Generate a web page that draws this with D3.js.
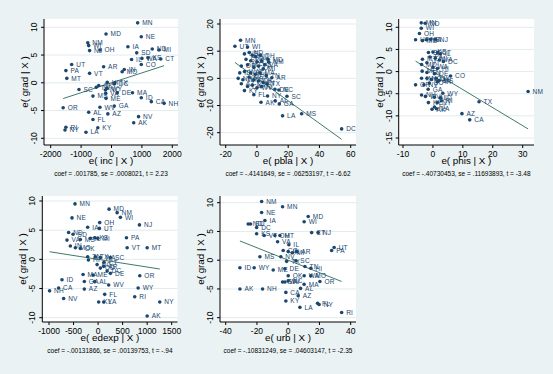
<!DOCTYPE html>
<html lang="en">
<head>
<meta charset="utf-8">
<title>avplots: grad</title>
<script src="https://cdn.jsdelivr.net/npm/d3@7/dist/d3.min.js"></script>
<style>
  body { margin: 0; background: #eaf2f3; }
  text { font-family: "Liberation Sans", Arial, sans-serif; }
  .tick-label { font-size: 8.5px; fill: #000; }
  .axis-title { font-size: 9.8px; fill: #000; }
  .note { font-size: 6.5px; fill: #000; }
  .pt-label { font-size: 6.5px; fill: #1a476f; letter-spacing: 0.3px; }
</style>
</head>
<body>
<script>

// residuals: [state, e(x | X), e(grad | X)]
var incPts = [
  ["MN",860,10.8],["MD",-180,8.8],["NE",980,8.3],["NM",-780,7.2],["WI",-750,6.7],
  ["NJ",-720,5.8],["OH",-380,5.9],["IA",540,6.5],["ND",1340,6.1],["MI",1560,5.9],
  ["SD",830,5.4],["IL",660,4.2],["WA",1000,4.4],["KS",1200,4.5],["CT",1620,4.3],
  ["CO",980,3.3],["UT",-1310,3.3],["PA",-1500,2.2],["VT",-720,1.7],["AR",-260,2.9],
  ["MT",-1470,0.8],["IN",420,2.4],["MO",350,2.0],["TX",110,0.0],["HI",-140,0.1],
  ["SC",-1070,-1.2],["TN",-500,-0.8],["OK",-420,-0.5],["NC",-200,-1.3],["VA",-190,-1.9],
  ["WY",-150,-1.0],["DC",90,-0.2],["ME",-180,-2.8],["MS",-610,-2.4],["DE",190,-1.8],
  ["MA",690,-1.8],["ID",980,-2.7],["OR",-1590,-4.5],["CA",1310,-3.4],["NH",1730,-3.7],
  ["WV",-380,-4.4],["GA",90,-4.2],["AL",-750,-5.3],["KY",-450,-8.1],["AZ",-120,-5.6],
  ["FL",-610,-6.6],["NV",890,-6.1],["AK",730,-7.2],["RI",-1500,-8.0],["NY",-1530,-8.5],
  ["LA",-840,-8.9]
];

var pblaPts = [
  ["MN",-10.5,14.0],["UT",-14.1,11.8],["WI",-6,11.5],["MD",7.0,7.0],["NM",7.5,6.0],
  ["AR",9.5,0.2],["TX",6.5,-2.0],["DE",11.5,-4.0],["NC",14,-4.3],["SC",19.2,-6.6],
  ["AL",11.7,-8.3],["GA",14.3,-9.4],["AK",2.6,-8.8],["NY",6.8,-6.5],["LA",16.4,-13.8],
  ["MS",28.6,-13.0],["DC",54.2,-18.6],
  ["NE",-8,9],["ND",-5,9.5],["IA",-3,8.5],["NJ",-1,8],["OH",2,8.5],["SD",-7,7],
  ["KS",-4,6.5],["CT",0,6],["IL",3,6.5],["VA",5,5],["OR",-10,4.5],["MT",-6,5],
  ["CO",-2,4],["PA",1,4.5],["MI",4,3.5],["ID",-11,2],["WA",-8,2.5],["VT",-4,2],
  ["HI",-1,1.5],["MA",2,2],["TN",6,1],["NH",-12,0],["WY",-9,-0.5],["ME",-5,0.5],
  ["MO",-2,-0.5],["OK",1,-1],["IN",4,-1.5],["AZ",-10,-2],["CA",-6,-3],["NV",-3,-2.5],
  ["WV",0,-3.5],["RI",3,-3],["KY",-8,-4.5],["FL",-2,-6]
];

var phisPts = [
  ["NM",31.8,-4.5],["TX",15.4,-6.8],["AZ",9.7,-9.5],["CA",12.3,-10.9],["CO",5.9,-1.0],
  ["DC",3.5,2.3],["MN",-3.9,11.0],["ND",-2.6,10.9],["WI",-3.9,9.8],["OH",-4.5,8.6],
  ["UT",-5.8,7.2],["MD",-3.5,7.0],["NE",-2.2,7.2],["IA",-0.8,7.3],["NJ",0.8,7.3],
  ["SD",-1.5,4.3],["KS",0,4.4],["CT",1.5,4.3],["IL",2.5,4.0],["PA",-1,3.3],
  ["MI",0.8,3.0],["VA",2.2,2.6],["MT",-3.5,2.8],["VT",-2,2.0],["MO",-3.8,1.6],
  ["WA",0,1.0],["HI",1.5,0.7],["ME",-3.6,0.1],["TN",-2,-0.2],["DE",0.5,-0.5],
  ["IN",-3.8,-1.5],["NC",-2,-1.5],["MA",-0.5,-1.8],["OK",1,-1.5],["MS",2,-2.0],
  ["SC",-1.2,-2.6],["AR",1.5,-2.3],["OR",-5.8,-3.0],["NV",-3,-3.0],["GA",-1.6,-4.0],
  ["WY",3.3,-4.9],["NH",-3.8,-5.3],["WV",-2.5,-5.6],["AL",0.5,-5.8],["ID",2.5,-5.9],
  ["KY",-1.5,-7.0],["NY",1.5,-7.0],["RI",2.8,-6.6],["FL",0.5,-8.0],["AK",-0.3,-8.5],
  ["LA",1.2,-8.4]
];

var edexpPts = [
  ["MN",-470,9.5],["MD",224,8.6],["NM",388,8.0],["WI",455,7.2],["NE",-531,7.1],
  ["OH",33,6.3],["NJ",843,5.9],["IA",-212,5.5],["UT",27,5.3],["ND",-600,4.6],
  ["SD",-510,4.3],["PA",578,3.7],["VT",592,2.0],["MT",1000,2.0],["VA",-633,3.3],
  ["MS",-361,3.4],["IL",-157,3.6],["KS",-69,3.7],["MI",-7,3.6],["MO",-463,2.0],
  ["IN",-565,2.3],["OK",-361,1.85],["SC",251,0.3],["TN",-212,0.45],["TX",-55,0.45],
  ["WA",47,0.3],["HI",-197,-0.1],["NC",-20,-0.9],["CT",120,-0.5],["GA",-280,-3.8],
  ["AL",-69,-3.8],["CO",47,-1.5],["ME",-102,-2.7],["MA",-306,-2.6],["WY",816,-4.9],
  ["DE",251,-2.4],["AR",114,-1.2],["DC",184,-2.0],["WV",216,-4.4],["ID",-735,-3.5],
  ["OR",850,-2.8],["CA",-804,-4.9],["AZ",-280,-5.1],["NH",-988,-5.4],["FL",135,-6.0],
  ["NV",-702,-6.7],["RI",747,-6.4],["KY",12,-7.3],["LA",114,-7.3],["NY",1257,-7.3],
  ["AK",1000,-9.7]
];

var urbPts = [
  ["NM",-17,10.2],["MN",-3.6,9.3],["NE",-17,8.3],["MD",12.8,7.6],["WI",10.2,6.7],
  ["IA",-14.9,6.9],["ND",-25.6,6.3],["SD",-24.1,6.3],["DC",-20.2,5.7],["NJ",19.2,4.8],
  ["CT",15,4.8],["KS",-20.2,4.6],["VT",-15.4,4.3],["OH",-8.5,4.3],["MT",-5.3,4.3],
  ["VA",-6.8,3.2],["IL",0.4,2.7],["UT",29.4,2.2],["PA",27.8,1.7],["CO",-3.2,1.7],
  ["IN",0,1.5],["MI",2.6,1.3],["AR",5.4,1.5],["MS",-18.1,0.6],["NV",-4.7,0.6],
  ["TX",-1,-0.2],["SC",4.9,-0.1],["TN",10.7,-1.1],["HI",14.5,-1.4],["ID",-30.9,-1.3],
  ["WY",-21.8,-1.3],["ME",-9.6,-1.7],["DE",-2.1,-1.5],["OK",0,-2.7],["WA",10.2,-2.7],
  ["MO",14.5,-2.7],["OR",20.3,-3.7],["GA",-3.6,-3.8],["WV",-2.1,-3.8],["NC",0,-3.6],
  ["MA",10.2,-4.2],["AL",7.9,-4.9],["AK",-30.9,-5.0],["NH",-16.4,-5.0],["CA",-1.5,-5.6],
  ["AZ",6.4,-6.2],["KY",-1.5,-7.1],["FL",18.8,-7.5],["NY",19.8,-7.7],["LA",7.5,-8.2],
  ["RI",34.2,-9.1]
];

var xNames = ["inc", "pbla", "phis", "edexp", "urb"];
var coefs = [0.001785, -0.4141649, -0.40730453, -0.00131866, -0.10831249];
var notes = [
  "coef = .001785, se = .0008021, t = 2.23",
  "coef = -.4141649, se = .06253197, t = -6.62",
  "coef = -.40730453, se = .11693893, t = -3.48",
  "coef = -.00131866, se = .00139753, t = -.94",
  "coef = -.10831249, se = .04603147, t = -2.35"
];
var xTickVals = [
  [-2000, -1000, 0, 1000, 2000],
  [-20, 0, 20, 40, 60],
  [-10, 0, 10, 20, 30],
  [-1000, -500, 0, 500, 1000, 1500],
  [-40, -20, 0, 20, 40]
];
var yTickVals = [
  [-10, -5, 0, 5, 10],
  [-20, -10, 0, 10, 20],
  [-15, -10, -5, 0, 5, 10],
  [-10, -5, 0, 5, 10],
  [-10, -5, 0, 5, 10]
];

// plot regions (left, right, top, bottom) and two tick anchors per axis
var layout = [
  { box: [44, 178, 19, 145],    xa: [-2000, 50.7, 2000, 172.3], ya: [10, 27.3, -10, 138.3] },
  { box: [220, 356, 19, 145],   xa: [-20, 225.7, 60, 350.7],    ya: [20, 24, -20, 132.7] },
  { box: [398.7, 534, 19, 145], xa: [-10, 403, 30, 522.7],      ya: [10, 27.3, -15, 138] },
  { box: [42.3, 177.5, 196, 322], xa: [-1000, 49, 1500, 171.7], ya: [10, 201, -10, 317.7] },
  { box: [220, 356, 196, 322],  xa: [-40, 225.7, 40, 350.7],    ya: [10, 202.7, -10, 317.7] }
];

var allPts = [incPts, pblaPts, phisPts, edexpPts, urbPts];

var w = 553, h = 374;
var navy = "#1a476f";

var svg = d3.select("body")
            .append("svg")
            .attr("width", w)
            .attr("height", h);

svg.append("rect")
   .attr("width", w)
   .attr("height", h)
   .attr("fill", "#eaf2f3");

layout.forEach(function(L, i) {
    var left = L.box[0], right = L.box[1], top = L.box[2], bottom = L.box[3];
    var x = d3.scaleLinear().domain([L.xa[0], L.xa[2]]).range([L.xa[1], L.xa[3]]);
    var y = d3.scaleLinear().domain([L.ya[0], L.ya[2]]).range([L.ya[1], L.ya[3]]);
    var pts = allPts[i];

    var g = svg.append("g");

    g.append("rect")
     .attr("x", left).attr("y", top)
     .attr("width", right - left).attr("height", bottom - top)
     .attr("fill", "#fff");

    // horizontal grid
    g.selectAll("line.grid")
     .data(yTickVals[i])
     .enter()
     .append("line")
     .attr("x1", left).attr("x2", right)
     .attr("y1", function(d) { return y(d); })
     .attr("y2", function(d) { return y(d); })
     .attr("stroke", "#e2ebed")
     .attr("stroke-width", 1);

    // fitted line through the origin, over the range of x
    var xr = d3.extent(pts, function(d) { return d[1]; });
    g.append("line")
     .attr("x1", x(xr[0])).attr("y1", y(coefs[i] * xr[0]))
     .attr("x2", x(xr[1])).attr("y2", y(coefs[i] * xr[1]))
     .attr("stroke", "#2b6b58")
     .attr("stroke-width", 0.9);

    g.selectAll("circle")
     .data(pts)
     .enter()
     .append("circle")
     .attr("cx", function(d) { return x(d[1]); })
     .attr("cy", function(d) { return y(d[2]); })
     .attr("r", 1.8)
     .attr("fill", navy);

    g.selectAll("text.pt-label")
     .data(pts)
     .enter()
     .append("text")
     .attr("class", "pt-label")
     .attr("x", function(d) { return x(d[1]) + 4.5; })
     .attr("y", function(d) { return y(d[2]) + 2.3; })
     .text(function(d) { return d[0]; });

    // axes
    g.append("line")
     .attr("x1", left).attr("x2", left)
     .attr("y1", top).attr("y2", bottom)
     .attr("stroke", "#000").attr("stroke-width", 1);
    g.append("line")
     .attr("x1", left).attr("x2", right)
     .attr("y1", bottom).attr("y2", bottom)
     .attr("stroke", "#000").attr("stroke-width", 1);

    g.selectAll("line.xt")
     .data(xTickVals[i])
     .enter()
     .append("line")
     .attr("x1", function(d) { return x(d); })
     .attr("x2", function(d) { return x(d); })
     .attr("y1", bottom).attr("y2", bottom + 3)
     .attr("stroke", "#000");

    g.selectAll("text.xt")
     .data(xTickVals[i])
     .enter()
     .append("text")
     .attr("class", "tick-label")
     .attr("text-anchor", "middle")
     .attr("x", function(d) { return x(d); })
     .attr("y", bottom + 12)
     .text(function(d) { return d; });

    g.selectAll("line.yt")
     .data(yTickVals[i])
     .enter()
     .append("line")
     .attr("x1", left - 3).attr("x2", left)
     .attr("y1", function(d) { return y(d); })
     .attr("y2", function(d) { return y(d); })
     .attr("stroke", "#000");

    g.selectAll("text.yt")
     .data(yTickVals[i])
     .enter()
     .append("text")
     .attr("class", "tick-label")
     .attr("text-anchor", "middle")
     .attr("transform", function(d) {
         return "translate(" + (left - 7) + "," + y(d) + ") rotate(-90)";
     })
     .text(function(d) { return d; });

    g.append("text")
     .attr("class", "axis-title")
     .attr("text-anchor", "middle")
     .attr("x", (left + right) / 2)
     .attr("y", bottom + 19)
     .text("e( " + xNames[i] + " | X )");

    g.append("text")
     .attr("class", "axis-title")
     .attr("text-anchor", "middle")
     .attr("transform", "translate(" + (left - 16) + "," + ((top + bottom) / 2) + ") rotate(-90)")
     .text("e( grad | X )");

    g.append("text")
     .attr("class", "note")
     .attr("text-anchor", "middle")
     .attr("x", (left + right) / 2)
     .attr("y", bottom + 30.5)
     .text(notes[i]);
});

</script>
</body>
</html>
